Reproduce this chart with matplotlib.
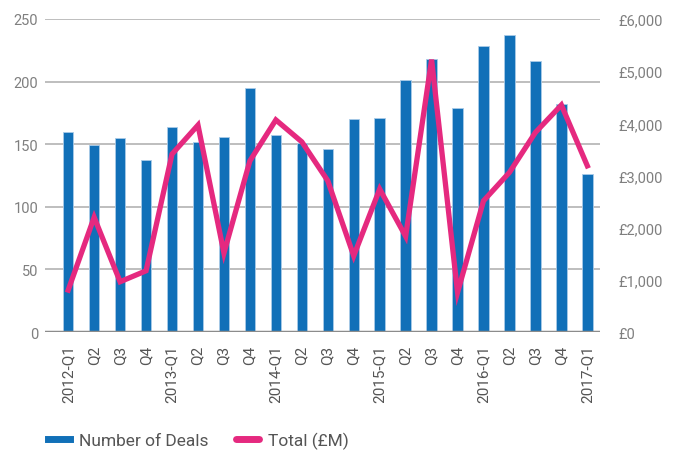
import matplotlib
matplotlib.use("Agg")
import matplotlib.pyplot as plt
from matplotlib.lines import Line2D
from matplotlib.ticker import FuncFormatter

# Dados
quarters = ["2012-Q1", "Q2", "Q3", "Q4",
            "2013-Q1", "Q2", "Q3", "Q4",
            "2014-Q1", "Q2", "Q3", "Q4",
            "2015-Q1", "Q2", "Q3", "Q4",
            "2016-Q1", "Q2", "Q3", "Q4",
            "2017-Q1"]
num_deals = [160, 149, 155, 137, 164, 152, 156, 195, 157, 151, 146,
             170, 171, 201, 218, 179, 228, 237, 216, 182, 126]
total_gbp_m = [805, 2200, 965, 1175, 3410, 3965, 1515, 3280, 4065, 3645, 2900,
               1460, 2740, 1835, 5220, 760, 2515, 3060, 3825, 4350, 3185]

azul = "#1170b8"
rosa = "#e5297f"
cinza = "#7f7f7f"

plt.rcParams['font.family'] = ['Roboto', 'DejaVu Sans']

fig = plt.figure(figsize=(6.73, 4.52), dpi=100)
ax = fig.add_axes([0.067, 0.263, 0.825, 0.693])
ax2 = ax.twinx()

x = list(range(len(quarters)))
ax.bar(x, num_deals, width=0.4, color=azul, edgecolor="#a9cbe8",
       linewidth=0.6, zorder=2)
ax2.plot(x, total_gbp_m, color=rosa, linewidth=3.8,
         solid_joinstyle="miter", zorder=3)

ax.set_xlim(-0.89, 20.5)
ax.set_ylim(0, 250)
ax2.set_ylim(0, 6000)
ax.set_yticks([0, 50, 100, 150, 200, 250])
ax2.set_yticks([0, 1000, 2000, 3000, 4000, 5000, 6000])
ax2.yaxis.set_major_formatter(FuncFormatter(lambda v, p: "£{:,.0f}".format(v)))

ax.set_xticks(x)
ax.set_xticklabels(quarters, rotation=90)

ax.grid(axis="y", color="#b3b3b3", linewidth=1.2, zorder=0)
ax.set_axisbelow(True)

for a in (ax, ax2):
    for lado in ("top", "left", "right", "bottom"):
        a.spines[lado].set_visible(False)
    a.tick_params(length=0, colors=cinza, labelsize=10.5)
ax.axhline(0, color="#8c8c8c", linewidth=2.5, zorder=4)
ax.tick_params(axis="x", pad=9, colors="#555555", labelsize=11)
ax.tick_params(axis="y", pad=5)
ax2.tick_params(axis="y", pad=13)

# Legenda com marcadores em forma de traço
proxy_barra = Line2D([0], [0], color=azul, linewidth=5)
proxy_linha = Line2D([0], [0], color=rosa, linewidth=5, solid_capstyle="round")
fig.legend([proxy_barra, proxy_linha], ["Number of Deals", "Total (£M)"],
           loc="lower left", bbox_to_anchor=(0.048, -0.03), ncol=2,
           frameon=False, fontsize=12.5, labelcolor="#555555",
           handlelength=1.3, handletextpad=0.5, columnspacing=1.6)

fig.savefig("out.png", dpi=100)
